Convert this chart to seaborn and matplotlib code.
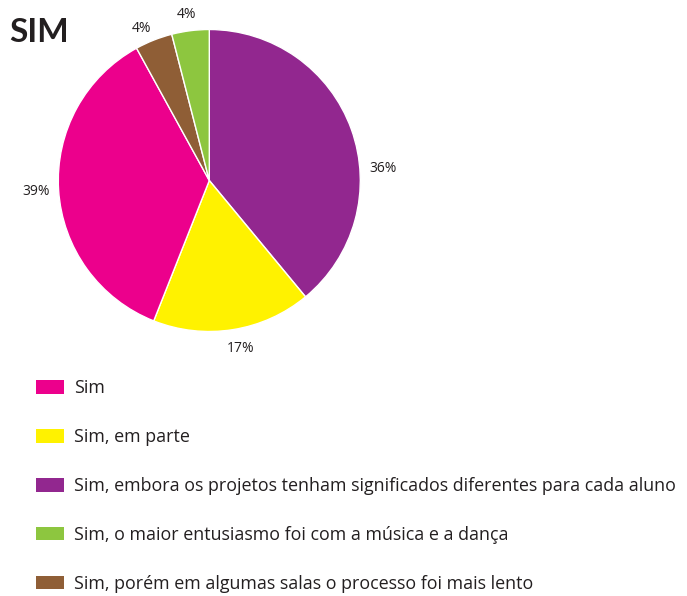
import matplotlib
matplotlib.use("Agg")
import matplotlib.pyplot as plt
from matplotlib.patches import Patch
import numpy as np
import seaborn as sns

# dados (ordem horaria a partir do topo, como no grafico)
slice_names = ["Sim, embora os projetos tenham significados diferentes para cada aluno",
               "Sim, em parte",
               "Sim",
               "Sim, porém em algumas salas o processo foi mais lento",
               "Sim, o maior entusiasmo foi com a música e a dança"]
slice_values = [39, 17, 36, 4, 4]          # tamanho desenhado das fatias
slice_texts = ["36%", "17%", "39%", "4%", "4%"]  # rotulos tal como impressos
slice_colors = ["#92278F", "#FFF200", "#EC008C", "#8F5E36", "#8DC63F"]

# ordem da legenda
legend_names = ["Sim",
                "Sim, em parte",
                "Sim, embora os projetos tenham significados diferentes para cada aluno",
                "Sim, o maior entusiasmo foi com a música e a dança",
                "Sim, porém em algumas salas o processo foi mais lento"]

sns.set_style("white")
plt.rcParams['font.family'] = ['Open Sans', 'DejaVu Sans']
dark = "#231F20"

W, H = 687, 596
fig = plt.figure(figsize=(W / 100, H / 100), dpi=100)

# eixo do pizza: centro (209, 180) px, raio 151 px
cx, cy, r = 209.3, 180.5, 151.0
lim = 1.2
side = 2 * lim * r
ax = fig.add_axes([(cx - side / 2) / W, (H - cy - side / 2) / H, side / W, side / H])

wedges, texts = ax.pie(slice_values, colors=slice_colors, startangle=90, counterclock=False,
                       labels=slice_texts, labeldistance=1.14,
                       wedgeprops=dict(edgecolor="white", linewidth=1.0),
                       textprops=dict(fontsize=10, color=dark))

# posicao dos rotulos: distancia ao centro e ajuste de angulo
label_dist = [1.155, 1.13, 1.15, 1.105, 1.11]
label_shift = [-15.7, 1.5, 0, 2.5, 0.5]
for w, t, d, s in zip(wedges, texts, label_dist, label_shift):
    a = np.deg2rad((w.theta1 + w.theta2) / 2 + s)
    t.set_position((d * np.cos(a), d * np.sin(a)))
    t.set_ha("center")
    t.set_va("center")

ax.set_xlim(-lim, lim)
ax.set_ylim(-lim, lim)
ax.axis("off")

fig.text(9 / W, 1 - 32 / H, "SIM", fontsize=24, fontweight="bold", color=dark,
         va="center", ha="left", family=["Lato", "DejaVu Sans"])

color_of = dict(zip(slice_names, slice_colors))
handles = [Patch(facecolor=color_of[n], edgecolor="none", label=n) for n in legend_names]
fs = 12.9
fig.legend(handles=handles, loc="upper left", bbox_to_anchor=(36 / W, 1 - 379 / H),
           frameon=False, fontsize=fs, borderpad=0, borderaxespad=0,
           handlelength=28 / (fs * 1.389), handleheight=14 / (fs * 1.389),
           handletextpad=10 / (fs * 1.389), labelspacing=1.73,
           labelcolor=dark)

fig.savefig("out.png", dpi=100)
